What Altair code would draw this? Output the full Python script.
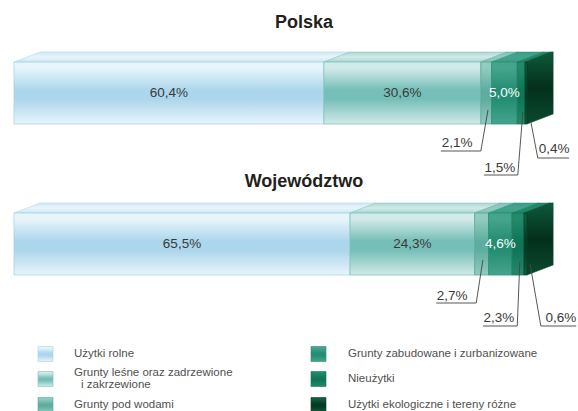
import altair as alt
import pandas as pd

# ---------------- data ----------------
regions = ["Polska", "Województwo"]
categories = [
    "Użytki rolne",
    "Grunty leśne oraz zadrzewione i zakrzewione",
    "Grunty pod wodami",
    "Grunty zabudowane i zurbanizowane",
    "Nieużytki",
    "Użytki ekologiczne i tereny różne",
]
legend_lines = [
    ["Użytki rolne"],
    ["Grunty leśne oraz zadrzewione", "i zakrzewione"],
    ["Grunty pod wodami"],
    ["Grunty zabudowane i zurbanizowane"],
    ["Nieużytki"],
    ["Użytki ekologiczne i tereny różne"],
]
polska_pct = [60.4, 30.6, 2.1, 5.0, 1.5, 0.4]
wojewodztwo_pct = [65.5, 24.3, 2.7, 4.6, 2.3, 0.6]
values = {"Polska": polska_pct, "Województwo": wojewodztwo_pct}

# ---------------- styles / layout ----------------
light = ["#e8f5fb", "#d2eae8", "#92cbc0", "#45a48c", "#24896a", "#125d3e"]
mid = ["#acd6ec", "#76bfb8", "#5eae9f", "#248d73", "#0f7658", "#053a22"]
topc = ["#cfe8f4", "#a9d8d3", "#80c4b8", "#3c9d85", "#1d8665", "#0c5034"]
strokec = ["#a5d3e7", "#7cc3bc", "#5aa99a", "#2a8f76", "#127a5c", "#06412a"]
label_mode = ["dark", "dark", "out", "light", "out", "out"]

BAR_TOP = {"Polska": 62, "Województwo": 213}
BAR_H = 62
TITLE_Y = {"Polska": 23, "Województwo": 182}
DX = 5.1   # depth in percent units
DY = 10    # depth in pixel units

# leader layout for outside labels: offsets (pct units) from segment middle, y in px
leader = {
    ("Polska", 2): dict(adx=0.35, ay=110, edx=-1.05, ey=151, ndx=-8.85, tdx=-5.65, ty=143),
    ("Polska", 4): dict(adx=0.35, ay=112, edx=-0.65, ey=175, ndx=-7.25, tdx=-4.15, ty=168),
    ("Polska", 5): dict(adx=1.0, ay=123, edx=2.3, ey=158, ndx=8.4, tdx=5.5, ty=149),
    ("Województwo", 2): dict(adx=0.25, ay=260, edx=-1.05, ey=303, ndx=-8.85, tdx=-5.75, ty=296),
    ("Województwo", 4): dict(adx=0.35, ay=262, edx=-0.15, ey=326, ndx=-6.85, tdx=-3.75, ty=318),
    ("Województwo", 5): dict(adx=0.9, ay=264, edx=3.0, ey=326, ndx=9.9, tdx=6.9, ty=318),
}

LEG_SW_X = [38, 311]
LEG_TX_X = [74, 348]
LEG_Y = [354, 379, 405]
LEG_LINE_H = 12
LEG_INDENT = 7
SW = 15

XS = alt.Scale(domain=[0, 100], range=[14, 527], nice=False, zero=False)
YS = alt.Scale(domain=[0, 411], range=[0, 411], nice=False, zero=False)
PX = alt.Scale(domain=[0, 578], range=[0, 578], nice=False, zero=False)
FONT = "Liberation Sans"


def vgrad(stops):
    return alt.Gradient(
        gradient="linear", x1=0, x2=0, y1=0, y2=1,
        stops=[alt.GradientStop(offset=o, color=c) for o, c in stops],
    )


def front_grad(i):
    return vgrad([(0, light[i]), (0.1, light[i]), (0.45, mid[i]), (0.6, mid[i]), (1, light[i])])


# ---------------- tables ----------------
bar_rows, top_rows, lab_rows, lead_rows = [], [], [], []
for r in regions:
    cum = 0.0
    top = BAR_TOP[r]
    for i, v in enumerate(values[r]):
        x0, x1 = cum, cum + v
        cum = x1
        m = (x0 + x1) / 2
        txt = f"{v:.1f}%".replace(".", ",")
        bar_rows.append(dict(region=r, idx=i, x0=x0, x1=x1, top=top, bottom=top + BAR_H, mid=m,
                             ymid=top + BAR_H / 2, label=txt))
        pts = sorted({x0, x1, x0 + DX, x1 + DX})
        for x in pts:
            up = top - DY * min(1, max(0, (x - x0) / DX))
            low = top - DY * min(1, max(0, (x - x1) / DX))
            top_rows.append(dict(region=r, idx=i, x=x, up=up, low=low))
        if label_mode[i] == "out":
            L = leader[(r, i)]
            lead_rows.append(dict(region=r, idx=i, ax=m + L["adx"], ay=L["ay"], ex=m + L["edx"],
                                  ey=L["ey"], nx=m + L["ndx"], tx=m + L["tdx"], ty=L["ty"], label=txt))
        else:
            lab_rows.append(dict(region=r, idx=i, mid=m, ymid=top + BAR_H / 2, label=txt,
                                 mode=label_mode[i]))

bars = pd.DataFrame(bar_rows)
tops = pd.DataFrame(top_rows)
labs = pd.DataFrame(lab_rows)
leads = pd.DataFrame(lead_rows)

side_rows = []
for r in regions:
    t = BAR_TOP[r]
    side_rows.append(dict(region=r, x=100.0, up=t, low=t + BAR_H))
    side_rows.append(dict(region=r, x=100.0 + DX, up=t - DY, low=t + BAR_H - DY))
side = pd.DataFrame(side_rows)

titles = pd.DataFrame(dict(region=regions, y=[TITLE_Y[r] for r in regions]))

leg = pd.DataFrame(dict(
    idx=list(range(6)),
    sx=[LEG_SW_X[i // 3] for i in range(6)],
    y=[LEG_Y[i % 3] for i in range(6)],
))
leg["sx2"] = leg["sx"] + SW
leg["y0"] = leg["y"] - SW / 2
leg["y1"] = leg["y"] + SW / 2

leg_text_rows = []
for i, lines in enumerate(legend_lines):
    n = len(lines)
    for k, line in enumerate(lines):
        leg_text_rows.append(dict(
            idx=i, text=line,
            tx=LEG_TX_X[i // 3] + (LEG_INDENT if k > 0 else 0),
            ty=LEG_Y[i % 3] + (k - (n - 1) / 2) * LEG_LINE_H,
        ))
leg_text = pd.DataFrame(leg_text_rows)

layers = []

# top faces
for i in range(6):
    d = tops[tops.idx == i]
    layers.append(
        alt.Chart(d).mark_area(
            fill=vgrad([(0, topc[i]), (0.5, light[i]), (1, topc[i])]),
            stroke=strokec[i], strokeWidth=0.5, interpolate="linear",
        ).encode(
            x=alt.X("x:Q", scale=XS, axis=None),
            y=alt.Y("up:Q", scale=YS, axis=None),
            y2="low:Q",
            detail="region:N",
        )
    )

# right side face
layers.append(
    alt.Chart(side).mark_area(
        fill=vgrad([(0, "#0d5a3b"), (0.5, "#042f1b"), (1, "#0a4a2f")]),
        stroke="#06412a", strokeWidth=0.5,
    ).encode(
        x=alt.X("x:Q", scale=XS, axis=None),
        y=alt.Y("up:Q", scale=YS, axis=None),
        y2="low:Q",
        detail="region:N",
    )
)

# front faces
for i in range(6):
    d = bars[bars.idx == i]
    layers.append(
        alt.Chart(d).mark_rect(fill=front_grad(i), stroke=strokec[i], strokeWidth=0.8).encode(
            x=alt.X("x0:Q", scale=XS, axis=None),
            x2="x1:Q",
            y=alt.Y("top:Q", scale=YS, axis=None),
            y2="bottom:Q",
        )
    )

# inside labels
for mode, col in [("dark", "#3a3a3a"), ("light", "#ffffff")]:
    d = labs[labs["mode"] == mode]
    layers.append(
        alt.Chart(d).mark_text(font=FONT, fontSize=13.5, color=col, baseline="middle", align="center").encode(
            x=alt.X("mid:Q", scale=XS, axis=None),
            y=alt.Y("ymid:Q", scale=YS, axis=None),
            text="label:N",
        )
    )

# leader lines
layers.append(
    alt.Chart(leads).mark_rule(color="#444444", strokeWidth=0.9).encode(
        x=alt.X("ax:Q", scale=XS, axis=None), y=alt.Y("ay:Q", scale=YS, axis=None),
        x2="ex:Q", y2="ey:Q",
    )
)
layers.append(
    alt.Chart(leads).mark_rule(color="#444444", strokeWidth=0.9).encode(
        x=alt.X("ex:Q", scale=XS, axis=None), y=alt.Y("ey:Q", scale=YS, axis=None),
        x2="nx:Q",
    )
)
layers.append(
    alt.Chart(leads).mark_text(font=FONT, fontSize=13.5, color="#3a3a3a", baseline="middle", align="center").encode(
        x=alt.X("tx:Q", scale=XS, axis=None), y=alt.Y("ty:Q", scale=YS, axis=None),
        text="label:N",
    )
)

# titles
layers.append(
    alt.Chart(titles).mark_text(font=FONT, fontSize=18, fontWeight="bold", color="#231f20",
                                baseline="middle", align="center").encode(
        x=alt.value(304), y=alt.Y("y:Q", scale=YS, axis=None), text="region:N",
    )
)

# legend swatches
for i in range(6):
    d = leg[leg.idx == i]
    layers.append(
        alt.Chart(d).mark_rect(fill=front_grad(i), stroke=strokec[i], strokeWidth=0.6).encode(
            x=alt.X("sx:Q", scale=PX, axis=None), x2="sx2:Q",
            y=alt.Y("y0:Q", scale=YS, axis=None), y2="y1:Q",
        )
    )
layers.append(
    alt.Chart(leg_text).mark_text(font=FONT, fontSize=11.5, color="#505050", align="left",
                                  baseline="middle").encode(
        x=alt.X("tx:Q", scale=PX, axis=None), y=alt.Y("ty:Q", scale=YS, axis=None), text="text:N",
    )
)

chart = alt.layer(*layers).resolve_scale(x="independent", y="independent").properties(
    width=578, height=411, autosize="none", padding=0, background="white"
).configure_view(strokeWidth=0)

chart.save("out.html", embed_options={"renderer": "svg", "actions": False})
